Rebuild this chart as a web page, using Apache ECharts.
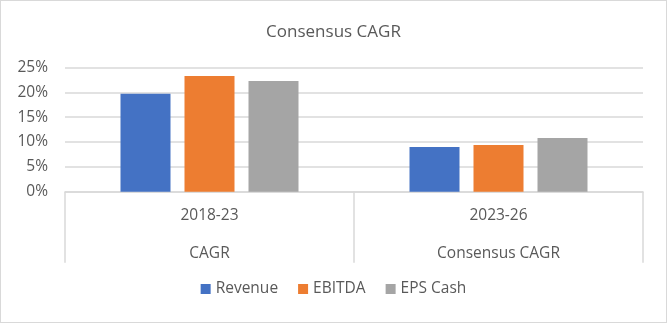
<!DOCTYPE html>
<html>
<head>
<meta charset="utf-8">
<script src="https://cdn.jsdelivr.net/npm/echarts@6/dist/echarts.min.js"></script>
<style>
html,body{margin:0;padding:0;background:#fff;}
#wrap{width:665px;height:321px;border:1px solid #d9d9d9;}
#chart{width:665px;height:321px;}
</style>
</head>
<body>
<div id="wrap"><div id="chart"></div></div>
<script>
const titleText = 'Consensus CAGR';
const periods = ['2018-23', '2023-26'];
const groups = ['CAGR', 'Consensus CAGR'];
const seriesNames = ['Revenue', 'EBITDA', 'EPS Cash'];
const revenue = [19.7, 9.0];
const ebitda = [23.3, 9.4];
const epsCash = [22.3, 10.8];
const colors = ['#4472c4', '#ed7d31', '#a5a5a5'];
const yMax = 25;
const yInterval = 5;

const font = '"Open Sans", sans-serif';
const txt = '#595959';
const line = '#d9d9d9';

const chart = echarts.init(document.getElementById('chart'));
const seriesData = [revenue, ebitda, epsCash];
chart.setOption({
  animation: false,
  color: colors,
  textStyle: { fontFamily: font },
  title: {
    text: titleText,
    left: 'center',
    top: 18,
    textStyle: { fontFamily: font, fontSize: 17, fontWeight: 'normal', color: txt }
  },
  legend: {
    bottom: 20,
    left: 'center',
    itemWidth: 10,
    itemHeight: 10,
    itemGap: 20,
    icon: 'rect',
    textStyle: { fontFamily: font, fontSize: 15.5, color: txt },
    data: seriesNames
  },
  grid: { left: 64, right: 23, top: 66.5, bottom: 130.3 },
  xAxis: {
    type: 'category',
    data: periods.map((p, i) => p + '\n' + groups[i]),
    axisLine: { lineStyle: { color: line, width: 1.5 } },
    axisTick: { show: true, length: 71, lineStyle: { color: line, width: 1.5 } },
    axisLabel: {
      fontFamily: font, fontSize: 15.5, color: txt,
      lineHeight: 38, margin: 5
    }
  },
  yAxis: {
    type: 'value',
    min: 0, max: yMax, interval: yInterval,
    axisLine: { show: false },
    axisTick: { show: false },
    splitLine: { lineStyle: { color: line, width: 1.5 } },
    axisLabel: { formatter: '{value}%', fontFamily: font, fontSize: 15.5, color: txt, margin: 17 }
  },
  series: seriesNames.map((n, i) => ({
    name: n,
    type: 'bar',
    data: seriesData[i],
    barWidth: 50,
    barGap: '28%'
  }))
});
</script>
</body>
</html>
